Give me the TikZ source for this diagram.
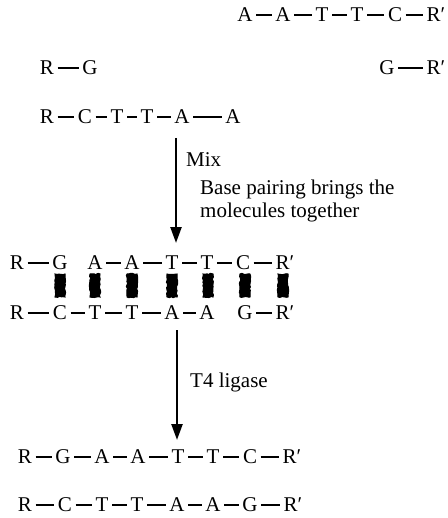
\documentclass[tikz,border=0pt]{standalone}
\usepackage{fontspec}
\setmainfont{Liberation Serif}
\usetikzlibrary{arrows.meta,decorations.pathmorphing}
\begin{document}
\begin{tikzpicture}[x=1pt,y=-1pt,
  base/.style={inner sep=0pt,text height=13.9pt,text depth=0pt,font=\fontsize{21}{23}\selectfont},
  lbl/.style={inner sep=0pt,anchor=west,align=left,font=\fontsize{21}{22.5}\selectfont},
  bond/.style={line width=2pt,shorten <=3.5pt,shorten >=3.5pt},
  flow/.style={line width=2.4pt,-{Triangle[width=11pt,length=16pt]}},
  pair/.style={fill=black,draw=black,line width=1pt,decorate,decoration={random steps,segment length=2pt,amplitude=0.7pt}}]
\useasboundingbox (0,0) rectangle (447,518);
% top-right strand
\foreach \x/\l [count=\i] in {245/A,283/A,322/T,357/T,395/C,436/R′}
  \node[base] (u\i) at (\x,15) {\l};
\foreach \i [evaluate=\i as \j using int(\i+1)] in {1,...,5}
  \draw[bond] (u\i) -- (u\j);
% G-R'
\node[base] (g1) at (387,68) {G};
\node[base] (g2) at (436,68) {R′};
\draw[bond] (g1) -- (g2);
% R-G
\node[base] (h1) at (47,68) {R};
\node[base] (h2) at (90,68) {G};
\draw[bond] (h1) -- (h2);
% R-C-T-T-A-A
\foreach \x/\l [count=\i] in {47/R,85/C,117/T,147/T,182/A,233/A}
  \node[base] (v\i) at (\x,117) {\l};
\foreach \i [evaluate=\i as \j using int(\i+1)] in {1,...,5}
  \draw[bond] (v\i) -- (v\j);
% arrow 1
\coordinate (a1s) at (176,138);
\coordinate (a1e) at (176,243);
\draw[flow] (a1s) -- (a1e);
\node[lbl] (mix) at (186,160) {Mix};
\node[lbl] (bp) at (200,201) {Base pairing brings the\\molecules together};
% annealed complex
\foreach \x/\l [count=\i] in {17/R,60/G,95/A,132/A,172/T,207/T,243/C,285/R′}
  \node[base] (m\i) at (\x,263) {\l};
\draw[bond] (m1) -- (m2);
\foreach \i [evaluate=\i as \j using int(\i+1)] in {3,...,7}
  \draw[bond] (m\i) -- (m\j);
\foreach \x/\l [count=\i] in {17/R,60/C,95/T,132/T,172/A,207/A,245/G,285/R′}
  \node[base] (n\i) at (\x,313) {\l};
\foreach \i [evaluate=\i as \j using int(\i+1)] in {1,...,5}
  \draw[bond] (n\i) -- (n\j);
\draw[bond] (n7) -- (n8);
\foreach \x in {60,95,132,172,208,245,283}
  \draw[pair] (\x-5,274) rectangle (\x+5,297);
% arrow 2
\coordinate (a2s) at (177,330);
\coordinate (a2e) at (177,440);
\draw[flow] (a2s) -- (a2e);
\node[lbl] (t4) at (190,382) {T4 ligase};
% ligated products
\foreach \x/\l [count=\i] in {25/R,63/G,102/A,138/A,178/T,213/T,250/C,292/R′}
  \node[base] (p\i) at (\x,457) {\l};
\foreach \i [evaluate=\i as \j using int(\i+1)] in {1,...,7}
  \draw[bond] (p\i) -- (p\j);
\foreach \x/\l [count=\i] in {25/R,65/C,102/T,137/T,177/A,213/A,250/G,293/R′}
  \node[base] (q\i) at (\x,505) {\l};
\foreach \i [evaluate=\i as \j using int(\i+1)] in {1,...,7}
  \draw[bond] (q\i) -- (q\j);
\end{tikzpicture}
\end{document}
